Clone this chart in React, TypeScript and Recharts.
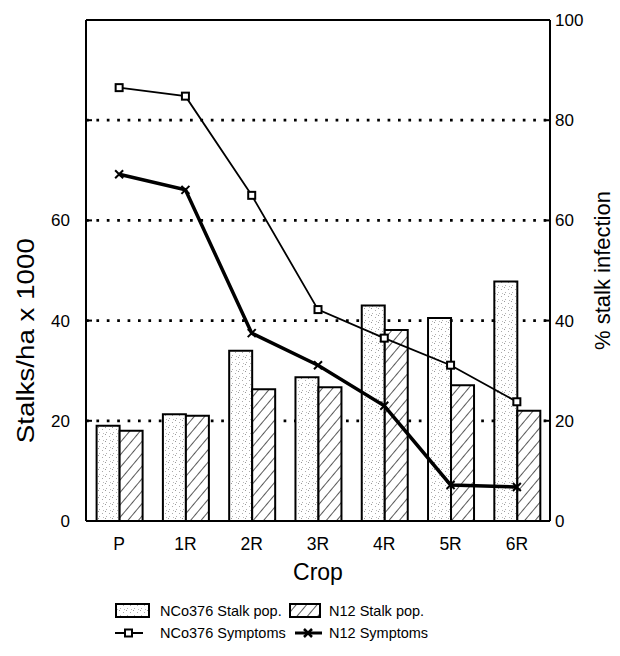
import React from "react";
import {
  Bar,
  CartesianGrid,
  ComposedChart,
  Line,
  ReferenceLine,
  XAxis,
  YAxis,
} from "recharts";

const crops = ["P", "1R", "2R", "3R", "4R", "5R", "6R"];
const nco376Stalks = [19.0, 21.3, 34.0, 28.7, 43.0, 40.5, 47.8];
const n12Stalks = [18.0, 21.0, 26.3, 26.7, 38.1, 27.1, 22.0];
const nco376Symptoms = [86.5, 84.8, 65.0, 42.2, 36.5, 31.1, 23.8];
const n12Symptoms = [69.2, 66.1, 37.5, 31.1, 23.0, 7.2, 6.8];
const leftTicks = [0, 20, 40, 60, 80, 100];
const rightTicks = [0, 20, 40, 60, 80, 100];

const FONT = '"Liberation Sans", Arial, Helvetica, sans-serif';

const data = crops.map((crop, i) => ({
  crop,
  ncoStalk: nco376Stalks[i],
  n12Stalk: n12Stalks[i],
  ncoSym: nco376Symptoms[i],
  n12Sym: n12Symptoms[i],
}));

function Patterns() {
  return (
    <svg width={0} height={0} style={{ position: "absolute" }}>
      <defs>
        <pattern id="stipple" width={7} height={7} patternUnits="userSpaceOnUse">
          <rect width={7} height={7} fill="#fff" />
          <rect x={0} y={0} width={1} height={1} fill="#999" />
          <rect x={4} y={2} width={1} height={1} fill="#aaa" />
          <rect x={1} y={5} width={1} height={1} fill="#b0b0b0" />
          <rect x={5} y={6} width={1} height={1} fill="#bbb" />
        </pattern>
        <pattern
          id="hatch"
          width={8}
          height={8}
          patternUnits="userSpaceOnUse"
          patternTransform="rotate(40)"
        >
          <rect width={8} height={8} fill="#fff" />
          <line x1={0} y1={0} x2={0} y2={8} stroke="#000" strokeWidth={1.3} />
        </pattern>
      </defs>
    </svg>
  );
}

function LeftTick(props: any) {
  const { x, y, payload } = props;
  const v = payload.value;
  return (
    <g>
      {v > 0 && v < 100 && (
        <line x1={x + 16} x2={x + 22} y1={y} y2={y} stroke="#000" strokeWidth={2} />
      )}
      {v <= 60 && (
        <text x={x} y={y} dy={6} textAnchor="end" fontSize={17} fill="#000" fontFamily={FONT}>
          {v}
        </text>
      )}
    </g>
  );
}

function RightTick(props: any) {
  const { x, y, payload } = props;
  const v = payload.value;
  return (
    <g>
      {v > 0 && v < 100 && (
        <line x1={x - 11} x2={x - 5} y1={y} y2={y} stroke="#000" strokeWidth={2} />
      )}
      <text x={x} y={y} dy={6} textAnchor="start" fontSize={17} fill="#000" fontFamily={FONT}>
        {v}
      </text>
    </g>
  );
}

function SquareDot(props: any) {
  const { cx, cy } = props;
  if (cx == null || cy == null) return null;
  return (
    <rect x={cx - 3.5} y={cy - 3.5} width={7} height={7} fill="#fff" stroke="#000" strokeWidth={2} />
  );
}

function CrossDot(props: any) {
  const { cx, cy } = props;
  if (cx == null || cy == null) return null;
  return (
    <path
      d={`M${cx - 4},${cy - 4}L${cx + 4},${cy + 4}M${cx - 4},${cy + 4}L${cx + 4},${cy - 4}`}
      stroke="#000"
      strokeWidth={2}
    />
  );
}

function LeftTitle(props: any) {
  const vb = props.viewBox;
  const cx = 34;
  const cy = vb.y + vb.height * 0.64;
  return (
    <text
      x={cx}
      y={cy}
      transform={`rotate(-90, ${cx}, ${cy})`}
      textAnchor="middle"
      fontSize={23}
      fontFamily={FONT}
      fill="#000"
      textLength={205}
      lengthAdjust="spacingAndGlyphs"
    >
      Stalks/ha x 1000
    </text>
  );
}

function RightTitle(props: any) {
  const vb = props.viewBox;
  const cx = 610;
  const cy = vb.y + vb.height * 0.5;
  return (
    <text
      x={cx}
      y={cy}
      transform={`rotate(-90, ${cx}, ${cy})`}
      textAnchor="middle"
      fontSize={22}
      fontFamily={FONT}
      fill="#000"
    >
      % stalk infection
    </text>
  );
}

function LegendBlock() {
  const txt: React.CSSProperties = { fontSize: 14.5, fontFamily: FONT, fill: "#000" } as any;
  return (
    <svg width={620} height={60} style={{ position: "absolute", left: 0, top: 596 }}>
      <rect x={116} y={8} width={33} height={13} fill="url(#stipple)" stroke="#000" strokeWidth={2} />
      <text x={160} y={20} style={txt}>NCo376 Stalk pop.</text>
      <rect x={290} y={8} width={30} height={13} fill="url(#hatch)" stroke="#000" strokeWidth={2} />
      <text x={329} y={20} style={txt}>N12 Stalk pop.</text>

      <line x1={115} x2={143} y1={37} y2={37} stroke="#000" strokeWidth={2} />
      <rect x={125} y={33.5} width={7} height={7} fill="#fff" stroke="#000" strokeWidth={2} />
      <text x={160} y={42} style={txt}>NCo376 Symptoms</text>
      <line x1={295} x2={322} y1={37} y2={37} stroke="#000" strokeWidth={3} />
      <path d="M304,33L312,41M304,41L312,33" stroke="#000" strokeWidth={2.5} />
      <text x={329} y={42} style={txt}>N12 Symptoms</text>
    </svg>
  );
}

export default function App() {
  return (
    <div
      style={{
        position: "absolute",
        left: 0,
        top: 0,
        width: 620,
        height: 656,
        background: "#fff",
        fontFamily: FONT,
      }}
    >
      <Patterns />
      <ComposedChart
        width={620}
        height={656}
        data={data}
        margin={{ top: 20, right: 0, bottom: 95, left: 0 }}
        barGap={0}
        barCategoryGap="16%"
      >
        <CartesianGrid
          yAxisId="left"
          vertical={false}
          horizontalValues={[20, 40, 60, 80]}
          stroke="#000"
          strokeWidth={2.7}
          strokeDasharray="2.7 7.7"
        />
        <XAxis
          dataKey="crop"
          height={40}
          tickSize={0}
          tickMargin={17}
          tickLine={false}
          axisLine={{ stroke: "#000", strokeWidth: 2 }}
          tick={{ fill: "#000", fontSize: 17.5, fontFamily: FONT }}
          label={{
            value: "Crop",
            position: "bottom",
            offset: 3,
            fill: "#000",
            fontSize: 23,
            fontFamily: FONT,
          }}
        />
        <YAxis
          yAxisId="left"
          width={86}
          domain={[0, 100]}
          ticks={leftTicks}
          interval={0}
          tickSize={0}
          tickMargin={16}
          tickLine={false}
          axisLine={{ stroke: "#000", strokeWidth: 2 }}
          tick={<LeftTick />}
          label={<LeftTitle />}
        />
        <YAxis
          yAxisId="right"
          orientation="right"
          width={70}
          domain={[0, 100]}
          ticks={rightTicks}
          interval={0}
          tickSize={0}
          tickMargin={5}
          tickLine={false}
          axisLine={{ stroke: "#000", strokeWidth: 2 }}
          tick={<RightTick />}
          label={<RightTitle />}
        />
        <ReferenceLine yAxisId="left" y={100} stroke="#000" strokeWidth={2} />
        <Bar
          yAxisId="left"
          dataKey="ncoStalk"
          fill="url(#stipple)"
          stroke="#000"
          strokeWidth={2}
          isAnimationActive={false}
        />
        <Bar
          yAxisId="left"
          dataKey="n12Stalk"
          fill="url(#hatch)"
          stroke="#000"
          strokeWidth={2}
          isAnimationActive={false}
        />
        <Line
          yAxisId="right"
          dataKey="ncoSym"
          stroke="#000"
          strokeWidth={1.8}
          dot={<SquareDot />}
          activeDot={false}
          isAnimationActive={false}
        />
        <Line
          yAxisId="right"
          dataKey="n12Sym"
          stroke="#000"
          strokeWidth={3.5}
          dot={<CrossDot />}
          activeDot={false}
          isAnimationActive={false}
        />
      </ComposedChart>
      <LegendBlock />
    </div>
  );
}
